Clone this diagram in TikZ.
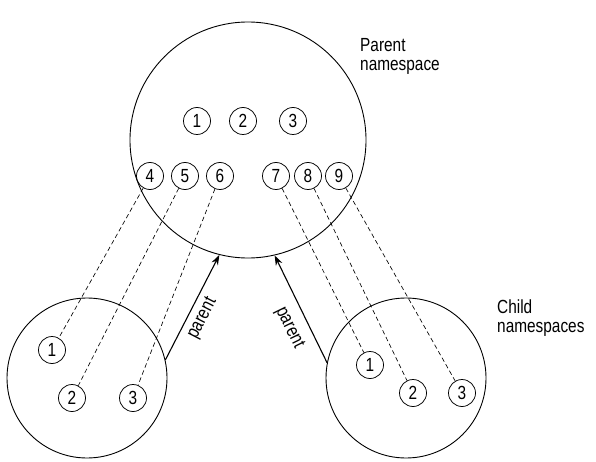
\documentclass[tikz,border=0pt]{standalone}
\usepackage{fontspec}
\setmainfont[FakeStretch=0.81]{Liberation Sans}
\usetikzlibrary{arrows.meta}
\begin{document}
\begin{tikzpicture}[x=1pt,y=-1pt,
  bigc/.style={circle,draw,line width=0.9pt,inner sep=0pt},
  num/.style={circle,draw,line width=0.75pt,inner sep=0pt,minimum size=27pt,font=\fontsize{19}{19}\selectfont},
  link/.style={draw,line width=0.65pt,dash pattern=on 4.5pt off 3pt},
  arr/.style={draw,line width=1.1pt,-{Stealth[length=10pt,width=7pt]}},
  lbl/.style={font=\fontsize{19}{19}\selectfont,inner sep=2pt},
  title/.style={font=\fontsize{19}{19}\selectfont,align=left,inner sep=0pt,anchor=north west}
]
\useasboundingbox (0,0) rectangle (596,462);
% big circles
\node[bigc,minimum size=236pt] (P) at (248,140) {};
\node[bigc,minimum size=160pt] (L) at (87,378) {};
\node[bigc,minimum size=160pt] (R) at (406,378) {};
% parent numbers
\node[num] (p1) at (197,121) {1};
\node[num] (p2) at (243,121) {2};
\node[num] (p3) at (293,121) {3};
\node[num] (p4) at (150,176) {4};
\node[num] (p5) at (185,176) {5};
\node[num] (p6) at (220,176) {6};
\node[num] (p7) at (276,176) {7};
\node[num] (p8) at (308,176) {8};
\node[num] (p9) at (339,176) {9};
% left child numbers
\node[num] (l1) at (52,350) {1};
\node[num] (l2) at (72,398) {2};
\node[num] (l3) at (133,398) {3};
% right child numbers
\node[num] (r1) at (370,365) {1};
\node[num] (r2) at (413,393) {2};
\node[num] (r3) at (462,393) {3};
% dashed links
\draw[link] (p4) -- (l1);
\draw[link] (p5) -- (l2);
\draw[link] (p6) -- (l3);
\draw[link] (p7) -- (r1);
\draw[link] (p8) -- (r2);
\draw[link] (p9) -- (r3);
% parent arrows
\draw[arr] (L.13) -- (P.256) node[pos=0.455,sloped,below=3.5pt,lbl] {parent};
\draw[arr] (R.169) -- (P.283) node[pos=0.40,sloped,below=8pt,lbl] {parent};
% titles
\node[title] (tp) at (360,38) {Parent\\namespace};
\node[title] (tc) at (497,300) {Child\\namespaces};
\end{tikzpicture}
\end{document}
